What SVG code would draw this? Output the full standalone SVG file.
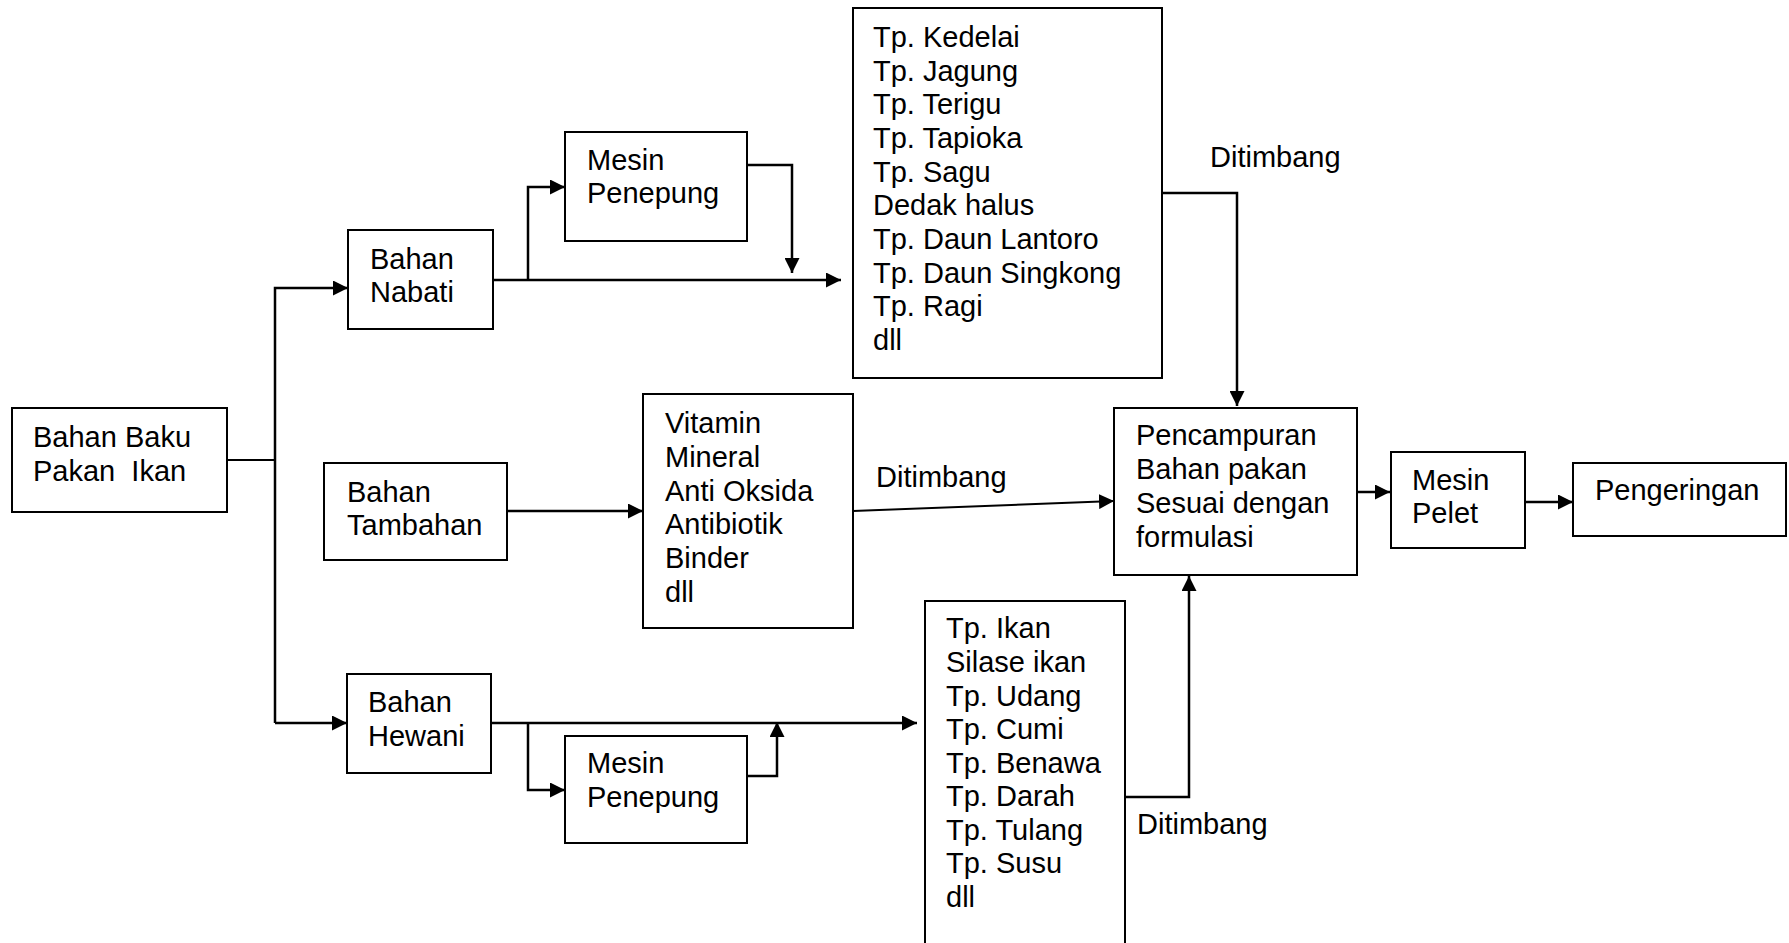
<svg xmlns="http://www.w3.org/2000/svg" width="1789" height="943" viewBox="0 0 1789 943">
<style>
  .box { fill: #ffffff; stroke: #000000; stroke-width: 2; }
  .t { font-family: "Liberation Sans", Arial, sans-serif; font-size: 29px; fill: #000000; }
  .c { fill: none; stroke: #000000; stroke-width: 2.5; }
  .thin { fill: none; stroke: #000000; stroke-width: 2; }
</style>
<defs>
  <marker id="arr" markerUnits="userSpaceOnUse" markerWidth="15" markerHeight="15" refX="15" refY="7.5" orient="auto">
    <path d="M0,0 L15,7.5 L0,15 Z" fill="#000000"/>
  </marker>
</defs>
<rect width="1789" height="943" fill="#ffffff"/>

<g id="connectors">
  <polyline class="thin" points="227,460 275,460"/>
  <polyline class="c" points="275,723 275,288 348,288" marker-end="url(#arr)"/>
  <polyline class="c" points="275,723 347,723" marker-end="url(#arr)"/>
  <polyline class="c" points="493,280 841,280" marker-end="url(#arr)"/>
  <polyline class="c" points="528,280 528,187 565,187" marker-end="url(#arr)"/>
  <polyline class="c" points="747,165 792,165 792,273" marker-end="url(#arr)"/>
  <polyline class="c" points="1162,193 1237,193 1237,406" marker-end="url(#arr)"/>
  <polyline class="c" points="507,511 643,511" marker-end="url(#arr)"/>
  <polyline class="thin" points="853,511 1114,501" marker-end="url(#arr)"/>
  <polyline class="c" points="491,723 917,723" marker-end="url(#arr)"/>
  <polyline class="c" points="528,723 528,790 565,790" marker-end="url(#arr)"/>
  <polyline class="c" points="747,776 777,776 777,722" marker-end="url(#arr)"/>
  <polyline class="c" points="1125,797 1189,797 1189,576" marker-end="url(#arr)"/>
  <polyline class="c" points="1357,492 1390,492" marker-end="url(#arr)"/>
  <polyline class="c" points="1525,502 1573,502" marker-end="url(#arr)"/>
  <text class="t" x="1210" y="167">Ditimbang</text>
  <text class="t" x="876" y="487">Ditimbang</text>
  <text class="t" x="1137" y="834">Ditimbang</text>
</g>

<g id="bahan-baku">
  <rect class="box" x="12" y="408" width="215" height="104"/>
  <text class="t" x="33" y="447">Bahan Baku</text>
  <text class="t" x="33" y="481" xml:space="preserve">Pakan  Ikan</text>
</g>

<g id="bahan-nabati">
  <rect class="box" x="348" y="230" width="145" height="99"/>
  <text class="t" x="370" y="269">Bahan</text>
  <text class="t" x="370" y="302">Nabati</text>
</g>

<g id="mesin-penepung-1">
  <rect class="box" x="565" y="132" width="182" height="109"/>
  <text class="t" x="587" y="170">Mesin</text>
  <text class="t" x="587" y="203">Penepung</text>
</g>

<g id="nabati-list">
  <rect class="box" x="853" y="8" width="309" height="370"/>
  <text class="t" x="873" y="47">Tp. Kedelai</text>
  <text class="t" x="873" y="81">Tp. Jagung</text>
  <text class="t" x="873" y="114">Tp. Terigu</text>
  <text class="t" x="873" y="148">Tp. Tapioka</text>
  <text class="t" x="873" y="182">Tp. Sagu</text>
  <text class="t" x="873" y="215">Dedak halus</text>
  <text class="t" x="873" y="249">Tp. Daun Lantoro</text>
  <text class="t" x="873" y="283">Tp. Daun Singkong</text>
  <text class="t" x="873" y="316">Tp. Ragi</text>
  <text class="t" x="873" y="350">dll</text>
</g>

<g id="bahan-tambahan">
  <rect class="box" x="324" y="463" width="183" height="97"/>
  <text class="t" x="347" y="502">Bahan</text>
  <text class="t" x="347" y="535">Tambahan</text>
</g>

<g id="tambahan-list">
  <rect class="box" x="643" y="394" width="210" height="234"/>
  <text class="t" x="665" y="433">Vitamin</text>
  <text class="t" x="665" y="467">Mineral</text>
  <text class="t" x="665" y="501">Anti Oksida</text>
  <text class="t" x="665" y="534">Antibiotik</text>
  <text class="t" x="665" y="568">Binder</text>
  <text class="t" x="665" y="602">dll</text>
</g>

<g id="bahan-hewani">
  <rect class="box" x="347" y="674" width="144" height="99"/>
  <text class="t" x="368" y="712">Bahan</text>
  <text class="t" x="368" y="746">Hewani</text>
</g>

<g id="mesin-penepung-2">
  <rect class="box" x="565" y="736" width="182" height="107"/>
  <text class="t" x="587" y="773">Mesin</text>
  <text class="t" x="587" y="807">Penepung</text>
</g>

<g id="hewani-list">
  <rect class="box" x="925" y="601" width="200" height="370"/>
  <text class="t" x="946" y="638">Tp. Ikan</text>
  <text class="t" x="946" y="672">Silase ikan</text>
  <text class="t" x="946" y="706">Tp. Udang</text>
  <text class="t" x="946" y="739">Tp. Cumi</text>
  <text class="t" x="946" y="773">Tp. Benawa</text>
  <text class="t" x="946" y="806">Tp. Darah</text>
  <text class="t" x="946" y="840">Tp. Tulang</text>
  <text class="t" x="946" y="873">Tp. Susu</text>
  <text class="t" x="946" y="907">dll</text>
</g>

<g id="pencampuran">
  <rect class="box" x="1114" y="408" width="243" height="167"/>
  <text class="t" x="1136" y="445">Pencampuran</text>
  <text class="t" x="1136" y="479">Bahan pakan</text>
  <text class="t" x="1136" y="513">Sesuai dengan</text>
  <text class="t" x="1136" y="547">formulasi</text>
</g>

<g id="mesin-pelet">
  <rect class="box" x="1391" y="452" width="134" height="96"/>
  <text class="t" x="1412" y="490">Mesin</text>
  <text class="t" x="1412" y="523">Pelet</text>
</g>

<g id="pengeringan">
  <rect class="box" x="1573" y="463" width="213" height="73"/>
  <text class="t" x="1595" y="500">Pengeringan</text>
</g>
</svg>
